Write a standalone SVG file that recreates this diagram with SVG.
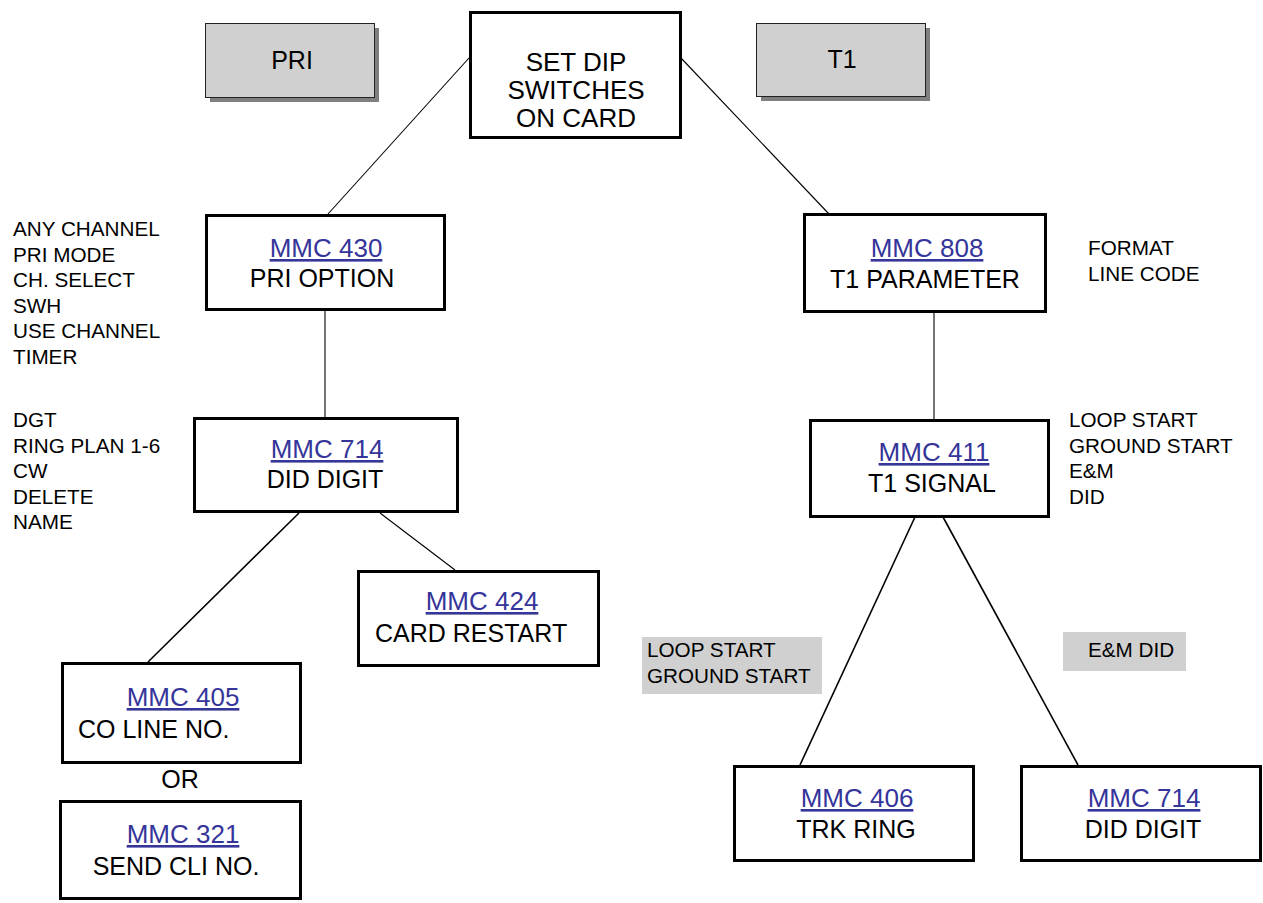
<svg xmlns="http://www.w3.org/2000/svg" width="1263" height="903" viewBox="0 0 1263 903">
  <style>
    text { font-family: "Liberation Sans", Arial, Helvetica, sans-serif; fill: #000; }
    .box { fill: #fff; stroke: #000; stroke-width: 3; }
    .tab { fill: #d0d0d0; stroke: #222; stroke-width: 1; }
    .shadow { fill: #7f7f7f; }
    .tag { fill: #d0d0d0; }
    .mmc { font-size: 26px; fill: #35359a; text-decoration: underline; }
    .desc { font-size: 25px; }
    .head { font-size: 26px; }
    .note { font-size: 20.7px; }
    .wire { stroke: #000; fill: none; }
  </style>

  <rect width="1263" height="903" fill="#fff"/>

  <!-- connectors -->
  <g id="connectors">
    <line class="wire" stroke-width="1.1" x1="469" y1="58" x2="328" y2="214"/>
    <line class="wire" stroke-width="1.1" x1="681" y1="58" x2="829" y2="214"/>
    <line class="wire" stroke-width="1.1" x1="325" y1="311" x2="325" y2="417"/>
    <line class="wire" stroke-width="1.1" x1="934" y1="312" x2="934" y2="419"/>
    <line class="wire" stroke-width="1.6" x1="299" y1="513" x2="148" y2="662"/>
    <line class="wire" stroke-width="1.1" x1="380" y1="513" x2="455" y2="570"/>
    <line class="wire" stroke-width="1.6" x1="915" y1="517" x2="800" y2="765"/>
    <line class="wire" stroke-width="1.6" x1="943" y1="517" x2="1078" y2="765"/>
  </g>

  <!-- section tabs -->
  <g id="tab-pri">
    <rect class="shadow" x="210" y="28" width="169" height="74"/>
    <rect class="tab" x="205.5" y="23.5" width="169" height="74"/>
    <text x="292" y="69" text-anchor="middle" class="desc">PRI</text>
  </g>
  <g id="tab-t1">
    <rect class="shadow" x="761" y="28" width="169" height="73"/>
    <rect class="tab" x="756.5" y="23.5" width="169" height="73"/>
    <text x="842" y="68" text-anchor="middle" class="desc">T1</text>
  </g>

  <!-- root -->
  <g id="set-dip">
    <rect class="box" x="470.5" y="12.5" width="210" height="125"/>
    <text x="576" y="71" text-anchor="middle" class="head">SET DIP</text>
    <text x="576" y="99" text-anchor="middle" class="head">SWITCHES</text>
    <text x="576" y="127" text-anchor="middle" class="head">ON CARD</text>
  </g>

  <!-- PRI branch -->
  <g id="mmc430">
    <rect class="box" x="206.5" y="215.5" width="238" height="94"/>
    <text x="326" y="257" text-anchor="middle" class="mmc">MMC 430</text>
    <text x="322" y="287" text-anchor="middle" class="desc">PRI OPTION</text>
  </g>
  <g id="pri-options">
    <text x="13" y="236" class="note">ANY CHANNEL</text>
    <text x="13" y="262" class="note">PRI MODE</text>
    <text x="13" y="287" class="note">CH. SELECT</text>
    <text x="13" y="313" class="note">SWH</text>
    <text x="13" y="338" class="note">USE CHANNEL</text>
    <text x="13" y="364" class="note">TIMER</text>
  </g>

  <g id="mmc714-pri">
    <rect class="box" x="194.5" y="418.5" width="263" height="93"/>
    <text x="327" y="458" text-anchor="middle" class="mmc">MMC 714</text>
    <text x="325" y="488" text-anchor="middle" class="desc">DID DIGIT</text>
  </g>
  <g id="did-options">
    <text x="13" y="427" class="note">DGT</text>
    <text x="13" y="453" class="note">RING PLAN 1-6</text>
    <text x="13" y="478" class="note">CW</text>
    <text x="13" y="504" class="note">DELETE</text>
    <text x="13" y="529" class="note">NAME</text>
  </g>

  <g id="mmc424">
    <rect class="box" x="358.5" y="571.5" width="240" height="94"/>
    <text x="482" y="610" text-anchor="middle" class="mmc">MMC 424</text>
    <text x="375" y="642" class="desc">CARD RESTART</text>
  </g>

  <g id="mmc405">
    <rect class="box" x="62.5" y="663.5" width="238" height="99"/>
    <text x="183" y="706" text-anchor="middle" class="mmc">MMC 405</text>
    <text x="78" y="738" class="desc">CO LINE NO.</text>
  </g>
  <g id="or-label">
    <text x="180" y="788" text-anchor="middle" class="desc">OR</text>
  </g>
  <g id="mmc321">
    <rect class="box" x="60.5" y="801.5" width="240" height="97"/>
    <text x="183" y="843" text-anchor="middle" class="mmc">MMC 321</text>
    <text x="176" y="875" text-anchor="middle" class="desc">SEND CLI NO.</text>
  </g>

  <!-- T1 branch -->
  <g id="mmc808">
    <rect class="box" x="804.5" y="214.5" width="241" height="97"/>
    <text x="927" y="257" text-anchor="middle" class="mmc">MMC 808</text>
    <text x="925" y="288" text-anchor="middle" class="desc">T1 PARAMETER</text>
  </g>
  <g id="t1-options">
    <text x="1088" y="255" class="note">FORMAT</text>
    <text x="1088" y="281" class="note">LINE CODE</text>
  </g>

  <g id="mmc411">
    <rect class="box" x="810.5" y="420.5" width="238" height="96"/>
    <text x="934" y="461" text-anchor="middle" class="mmc">MMC 411</text>
    <text x="932" y="492" text-anchor="middle" class="desc">T1 SIGNAL</text>
  </g>
  <g id="signal-options">
    <text x="1069" y="427" class="note">LOOP START</text>
    <text x="1069" y="453" class="note">GROUND START</text>
    <text x="1069" y="478" class="note">E&amp;M</text>
    <text x="1069" y="504" class="note">DID</text>
  </g>

  <g id="tag-loop">
    <rect class="tag" x="642" y="637" width="180" height="57"/>
    <text x="647" y="657" class="note">LOOP START</text>
    <text x="647" y="683" class="note">GROUND START</text>
  </g>
  <g id="tag-em">
    <rect class="tag" x="1063" y="632" width="123" height="39"/>
    <text x="1088" y="657" class="note">E&amp;M DID</text>
  </g>

  <g id="mmc406">
    <rect class="box" x="734.5" y="766.5" width="239" height="94"/>
    <text x="857" y="807" text-anchor="middle" class="mmc">MMC 406</text>
    <text x="856" y="838" text-anchor="middle" class="desc">TRK RING</text>
  </g>
  <g id="mmc714-t1">
    <rect class="box" x="1021.5" y="766.5" width="239" height="94"/>
    <text x="1144" y="807" text-anchor="middle" class="mmc">MMC 714</text>
    <text x="1143" y="838" text-anchor="middle" class="desc">DID DIGIT</text>
  </g>
</svg>
